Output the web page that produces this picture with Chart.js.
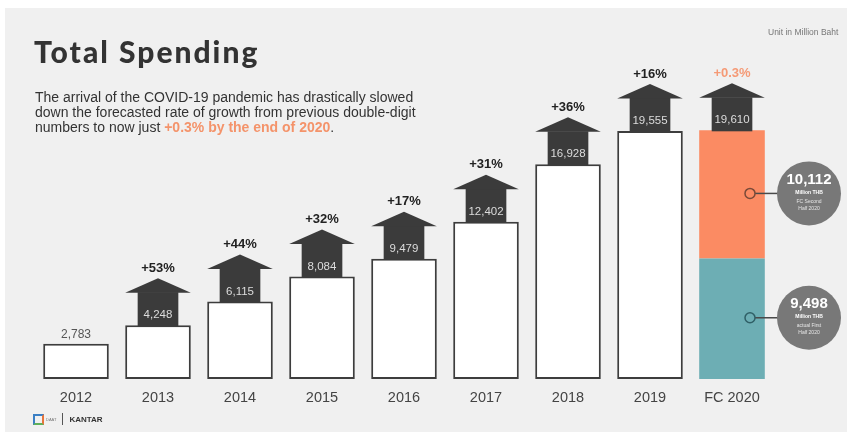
<!DOCTYPE html>
<html><head><meta charset="utf-8">
<script src="https://cdn.jsdelivr.net/npm/chart.js@4/dist/chart.umd.min.js"></script>
<style>
html,body{margin:0;padding:0;background:#fff;}
#wrap{position:relative;width:847px;height:432px;overflow:hidden;background:#fff;}
#bg{position:absolute;left:5px;top:8px;right:0;bottom:0;background:#f0f0f0;}
#cv{position:absolute;left:0;top:0;width:847px;height:432px;}
.tx{position:absolute;white-space:nowrap;color:#333;}
#title{left:34px;top:33px;font-family:Lato,"Noto Sans",sans-serif;font-weight:900;font-size:30px;line-height:36px;letter-spacing:2px;color:#333;}
#sub{left:35px;top:90px;font-family:"Liberation Sans",Arial,sans-serif;font-size:14px;line-height:15px;color:#333;}
#sub b{color:#f4936a;}
#unit{left:768px;top:27px;font-family:"Liberation Sans",Arial,sans-serif;font-size:8.5px;color:#777;}
#logo{left:33px;top:413px;font-family:"Liberation Sans",Arial,sans-serif;font-size:8px;font-weight:bold;color:#333;display:flex;align-items:center;}
#logo .ic{display:inline-block;width:11px;height:11px;border:2px solid #3b7fc4;border-right-color:#e8743b;border-bottom-color:#5fb05a;box-sizing:border-box;margin-right:2px;}
#logo .sm{font-size:4px;color:#777;font-weight:normal;margin-right:6px;}
#logo .sep{display:inline-block;width:1px;height:12px;background:#555;margin-right:6px;}
</style></head>
<body>
<div id="wrap">
  <div id="bg"></div>
  <div id="cv"><canvas id="c"></canvas></div>
  <div class="tx" id="title">Total Spending</div>
  <div class="tx" id="sub">The arrival of the COVID-19 pandemic has drastically slowed<br>down the forecasted rate of growth from previous double-digit<br>numbers to now just <b>+0.3% by the end of 2020</b>.</div>
  <div class="tx" id="unit">Unit in Million Baht</div>
  <div class="tx" id="logo"><span class="ic"></span><span class="sm">DAAT</span><span class="sep"></span>KANTAR</div>
</div>
<script>
const categories = ['2012','2013','2014','2015','2016','2017','2018','2019','FC 2020'];
const totalSpending = [2783, 4248, 6115, 8084, 9479, 12402, 16928, 19555, null];
const firstHalf2020 = [null, null, null, null, null, null, null, null, 9498];
const secondHalf2020 = [null, null, null, null, null, null, null, null, 10112];
const growthLabels = ['', '+53%', '+44%', '+32%', '+17%', '+31%', '+36%', '+16%', '+0.3%'];
const calloutTitles = {first: ['actual First', 'Half 2020'], second: ['FC Second', 'Half 2020']};

const fmt = v => v.toLocaleString('en-US');

const arrowPlugin = {
  id: 'arrows',
  afterDatasetsDraw(chart) {
    const ctx = chart.ctx, xs = chart.scales.x, ys = chart.scales.y;
    const bw = chart.getDatasetMeta(0).data[0].width;
    ctx.save();
    categories.forEach((c, i) => {
      const total = (totalSpending[i] || 0) + (firstHalf2020[i] || 0) + (secondHalf2020[i] || 0);
      const x = xs.getPixelForValue(i);
      const top = ys.getPixelForValue(total);
      ctx.textAlign = 'center';
      ctx.textBaseline = 'middle';
      if (!growthLabels[i]) {
        ctx.fillStyle = '#555';
        ctx.font = '12px "Liberation Sans", Arial, sans-serif';
        ctx.fillText(fmt(total), x, top - 9);
        return;
      }
      const bodyH = 33, roofH = 14, bodyW = bw * 0.62;
      ctx.fillStyle = '#3b3b3b';
      ctx.fillRect(x - bodyW / 2, top - bodyH, bodyW, bodyH + 1);
      ctx.beginPath();
      ctx.moveTo(x - bw / 2, top - bodyH + 0.5);
      ctx.lineTo(x, top - bodyH - roofH);
      ctx.lineTo(x + bw / 2, top - bodyH + 0.5);
      ctx.closePath();
      ctx.fill();
      ctx.fillStyle = '#dcdcdc';
      ctx.font = '11.5px "Liberation Sans", Arial, sans-serif';
      ctx.fillText(fmt(total), x, top - 10);
      ctx.fillStyle = i === categories.length - 1 ? '#f59a76' : '#222';
      ctx.font = 'bold 13px "Liberation Sans", Arial, sans-serif';
      ctx.fillText(growthLabels[i], x, top - bodyH - roofH - 10);
    });

    // callouts for the 2020 halves
    const last = categories.length - 1;
    const items = [
      {meta: chart.getDatasetMeta(2), val: secondHalf2020[last], lines: calloutTitles.second, ring: '#7a4a38'},
      {meta: chart.getDatasetMeta(1), val: firstHalf2020[last], lines: calloutTitles.first, ring: '#2f5f66'}
    ];
    items.forEach(it => {
      const el = it.meta.data[last];
      const cy = (el.y + el.base) / 2 - 1;
      const rx = el.x + 18;
      const cx = 809, r = 32;
      ctx.strokeStyle = '#4a4a4a';
      ctx.lineWidth = 1.5;
      ctx.beginPath(); ctx.moveTo(rx + 5, cy); ctx.lineTo(cx - r + 2, cy); ctx.stroke();
      ctx.strokeStyle = it.ring;
      ctx.beginPath(); ctx.arc(rx, cy, 5, 0, Math.PI * 2); ctx.stroke();
      ctx.fillStyle = '#787878';
      ctx.beginPath(); ctx.arc(cx, cy, r, 0, Math.PI * 2); ctx.fill();
      ctx.fillStyle = '#fff';
      ctx.textAlign = 'center'; ctx.textBaseline = 'middle';
      ctx.font = 'bold 15px "Liberation Sans", Arial, sans-serif';
      ctx.fillText(fmt(it.val), cx, cy - 14);
      ctx.font = 'bold 5px "Liberation Sans", Arial, sans-serif';
      ctx.fillText('Million THB', cx, cy - 1);
      ctx.fillStyle = '#e6e6e6';
      ctx.font = '5px "Liberation Sans", Arial, sans-serif';
      ctx.fillText(it.lines[0], cx, cy + 8);
      ctx.fillText(it.lines[1], cx, cy + 15);
    });
    ctx.restore();
  }
};

new Chart(document.getElementById('c'), {
  type: 'bar',
  data: {
    labels: categories,
    datasets: [
      {label: 'Total Spending', data: totalSpending, backgroundColor: '#ffffff', borderColor: '#3d3d3d', borderWidth: 2, borderSkipped: false},
      {label: 'Actual First Half 2020', data: firstHalf2020, backgroundColor: '#6daeb4', borderWidth: 0},
      {label: 'FC Second Half 2020', data: secondHalf2020, backgroundColor: '#fb8b63', borderWidth: 0}
    ]
  },
  options: {
    responsive: true,
    maintainAspectRatio: false,
    animation: false,
    layout: {padding: {left: 35, right: 74, top: 100, bottom: 0}},
    datasets: {bar: {barPercentage: 0.8, categoryPercentage: 1.0}},
    plugins: {legend: {display: false}, tooltip: {enabled: false}},
    scales: {
      x: {
        stacked: true,
        grid: {display: false, drawTicks: false},
        border: {display: false},
        ticks: {padding: 10, color: '#444', font: {family: '"Liberation Sans", Arial, sans-serif', size: 14.5}},
        afterFit(scale) { scale.height = 53; }
      },
      y: {stacked: true, display: false, min: 0, max: 22000}
    }
  },
  plugins: [arrowPlugin]
});
</script>
</body></html>
